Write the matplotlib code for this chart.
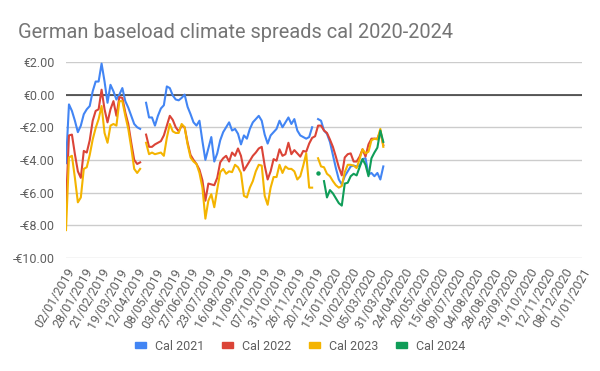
import numpy as np
import matplotlib
matplotlib.use("Agg")
import matplotlib.pyplot as plt
import matplotlib.patches as mpatches
import pandas as pd

# Data: one value every 3 business days from 02/01/2019 (None = no quote)
step = 3
cal2021 = [-4.2, -0.6, -1.0, -1.6, -2.3, -1.9, -1.2, -0.9, -0.7, 0.2,
           0.8, 0.8, 1.9, 0.8, -0.5, 0.6, 0.2, -0.3, 0.0, 0.4,
           -0.4, -0.8, -1.3, -1.8, -2.0, -2.1, None, -0.5, -1.4, -1.4,
           -1.9, -1.3, -0.85, -0.65, 0.5, 0.4, -0.05, -0.3, -0.35, -0.2,
           0.0, -0.75, -1.2, -1.7, -1.9, -1.6, -2.85, -4.0, -3.3, -2.6,
           -4.1, -3.6, -2.8, -2.3, -2.0, -1.7, -2.2, -2.1, -2.4, -3.05,
           -2.5, -2.7, -2.1, -1.7, -1.5, -1.3, -1.6, -2.45, -3.0, -2.5,
           -2.3, -2.1, -1.6, -2.0, -1.7, -1.4, -1.8, -1.5, -2.2, -2.5,
           -2.6, -2.7, -2.6, -2.0, None, -1.5, -1.6, -2.2, -2.4, -2.9,
           -3.7, -4.5, -5.2, -5.5, -5.0, -4.7, -4.4, -4.35, -4.4, -4.35,
           -3.95, -3.9, -4.9, -4.8, -5.0, -4.8, -5.2, -4.4]
cal2022 = [-6.8, -2.5, -2.45, -3.65, -4.7, -5.1, -3.45, -3.55, -2.8, -1.6,
           -1.0, -0.9, 0.3, -0.9, -1.7, -0.9, -0.4, -1.3, -0.15, -0.2,
           -1.1, -1.8, -2.95, -4.0, -4.25, -4.15, None, -2.45, -3.2, -3.2,
           -3.05, -2.95, -2.85, -2.5, -1.9, -1.3, -1.55, -2.0, -2.25, -1.9,
           -2.0, -2.95, -3.7, -4.0, -4.25, -4.6, -5.25, -6.5, -5.45, -5.5,
           -5.55, -5.1, -4.15, -3.9, -3.75, -4.1, -3.55, -3.75, -3.3, -3.75,
           -4.65, -4.35, -4.05, -3.75, -3.55, -3.3, -3.2, -4.35, -5.2, -4.7,
           -3.95, -4.05, -3.35, -3.75, -3.65, -2.95, -3.65, -3.4, -3.6, -3.8,
           -3.45, -3.5, -3.0, -2.65, -2.55, -1.9, -1.9, -2.2, -2.35, -2.75,
           -3.2, -3.8, -4.45, -4.95, -3.85, -3.65, -3.6, -4.1, -4.1, -3.8,
           -3.35, -3.8, -3.05, -2.7, -2.7, -2.7, -2.25, -3.1]
cal2023 = [-8.3, -3.85, -3.75, -5.1, -6.6, -6.3, -4.55, -4.45, -3.7, -2.75,
           -2.05, -1.5, -0.7, -2.35, -2.95, -1.9, -1.8, -1.9, -0.4, -0.4,
           -1.3, -2.1, -3.25, -4.55, -4.8, -4.55, None, -2.95, -3.65, -3.55,
           -3.65, -3.6, -3.55, -3.75, -2.65, -1.8, -2.25, -2.35, -2.35, -1.8,
           -2.0, -3.05, -3.85, -4.1, -4.25, -4.8, -5.7, -7.6, -6.5, -6.1,
           -6.9, -5.8, -4.75, -4.55, -4.85, -4.7, -4.75, -4.3, -4.45, -4.8,
           -6.2, -6.3, -5.7, -5.3, -4.7, -4.3, -4.35, -6.2, -6.75, -5.7,
           -5.05, -5.05, -4.3, -4.8, -4.4, -4.55, -4.55, -4.7, -5.2, -5.0,
           -4.35, -3.6, -5.7, -5.7, None, -3.9, -4.4, -4.45, -4.85, -5.0,
           -5.3, -5.55, -5.7, -5.6, -4.75, -4.3, -4.3, -4.35, -4.5, -3.95,
           -3.35, -3.6, -3.5, -2.8, -2.7, -2.75, -2.1, -3.2]
cal2024 = [None] * 85 + [-4.8, None, -5.3, -6.3, -5.85, -6.05, -6.35, -6.65, -6.8, -5.45,
                         -5.4, -5.0, -4.85, -4.95, -4.45, -3.95, -4.3, -5.0, -3.9, -3.55,
                         -3.25, -2.2, -2.9]

series = ["Cal 2021", "Cal 2022", "Cal 2023", "Cal 2024"]
colors = ["#4285F4", "#DB4437", "#F4B400", "#0F9D58"]

# category axis: every business day up to 01/01/2021
dates = pd.bdate_range("2019-01-02", "2021-01-01")
tick_every = 18

plt.rcParams["font.family"] = ["Roboto", "DejaVu Sans"]

fig = plt.figure(figsize=(6, 3.71), dpi=100)
ax = fig.add_axes([0.11, 0.305, 0.86, 0.528])

for name, vals, col in zip(series, [cal2021, cal2022, cal2023, cal2024], colors):
    y = np.array([np.nan if v is None else v for v in vals], dtype=float)
    x = np.arange(len(y)) * step
    ax.plot(x, y, color=col, lw=1.5, solid_joinstyle="round")
    # lone points between gaps show up as dots
    ok = ~np.isnan(y)
    prev_ok = np.r_[False, ok[:-1]]
    next_ok = np.r_[ok[1:], False]
    lone = ok & ~prev_ok & ~next_ok
    ax.plot(x[lone], y[lone], "o", color=col, ms=3.2, mec="none")

ax.set_xlim(0, len(dates) - 1)
ax.set_ylim(-10, 2)
ax.set_yticks(np.arange(-10, 3, 2))
ax.set_yticklabels([("-€%.2f" % abs(v)) if v < 0 else "€%.2f" % v for v in np.arange(-10, 3, 2)])
ticks = np.arange(0, len(dates), tick_every)
ax.set_xticks(ticks)
ax.set_xticklabels([dates[i].strftime("%d/%m/%Y") for i in ticks],
                   rotation=60, ha="right", rotation_mode="anchor")
ax.tick_params(length=0, labelsize=9, colors="#5f5f5f")
ax.tick_params(axis="x", pad=6)
ax.tick_params(axis="y", pad=8)
for s in ax.spines.values():
    s.set_visible(False)
ax.grid(axis="y", color="#cccccc", lw=1)
ax.set_axisbelow(True)
ax.axhline(0, color="#333333", lw=1.1, zorder=1.5)

fig.text(0.03, 0.913, "German baseload climate spreads cal 2020-2024",
         fontsize=14.4, color="#757575", va="center", ha="left")

handles = [mpatches.Patch(color=c, label=n) for n, c in zip(series, colors)]
fig.legend(handles=handles, loc="center", bbox_to_anchor=(0.5, 0.067), ncol=4,
           frameon=False, fontsize=9, labelcolor="#5f5f5f",
           handlelength=0.9, handleheight=0.35, handletextpad=0.7, columnspacing=1.4)

fig.savefig("out.png", dpi=100)
